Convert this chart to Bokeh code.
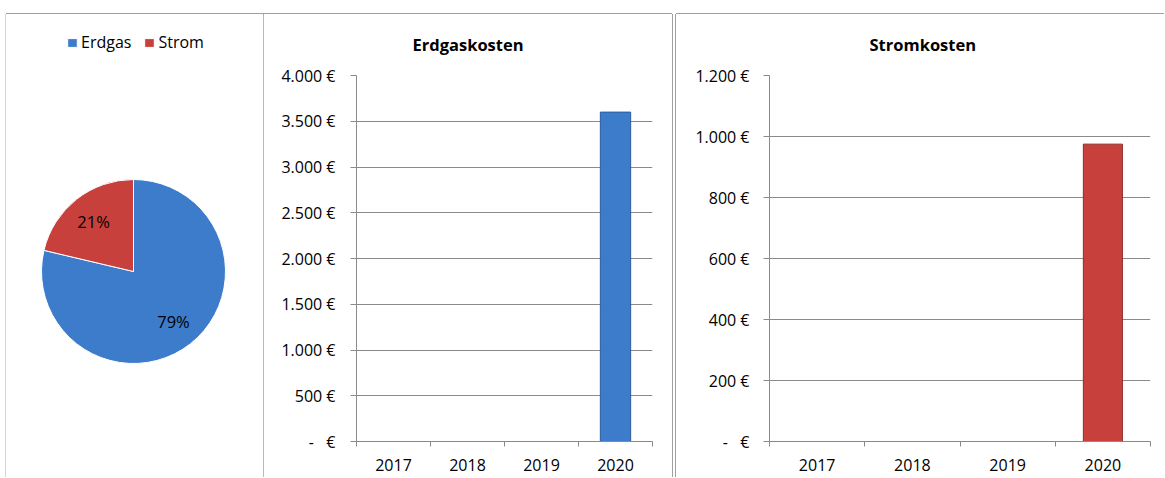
import math
from bokeh.plotting import figure
from bokeh.layouts import row, column
from bokeh.models import Range1d, FixedTicker, ColumnDataSource, Spacer
from bokeh.embed import file_html
from bokeh.resources import INLINE
from bokeh.core.properties import value

# ---------------- data ----------------
years = ["2017", "2018", "2019", "2020"]
erdgas_kosten = [0, 0, 0, 3600]
strom_kosten = [0, 0, 0, 975]
energy_labels = ["Erdgas", "Strom"]
gas_ticks = [0, 500, 1000, 1500, 2000, 2500, 3000, 3500, 4000]
strom_ticks = [0, 200, 400, 600, 800, 1000, 1200]
titles = ["Erdgaskosten", "Stromkosten"]

# ---------------- style ----------------
FONT = "Open Sans"
FS = "16px"
BLUE = "#3d7cca"
BLUE_EDGE = "#2c5c9c"
RED = "#c8403b"
RED_EDGE = "#8e2b27"
GRID = "#8a8a8a"
BORDER = "#a0a0a0"
H = 463
TOP, BOTTOM = 60, 36


def euro(v):
    if v == 0:
        return "-\u00a0\u00a0\u00a0€"
    return f"{v:,.0f}".replace(",", ".") + " €"


# ---------------- pie panel ----------------
W1 = 257
R = 92.0           # pixels per data unit (pie radius = 1)
cx, cy = 127, 257  # pie centre in canvas pixels
p1 = figure(width=W1, height=H, output_backend="svg", toolbar_location=None, title=None,
            x_range=Range1d(-cx / R, (W1 - cx) / R),
            y_range=Range1d(-(H - cy) / R, cy / R),
            x_axis_location=None, y_axis_location=None, min_border=0,
            styles={"box-shadow": f"0 -1px 0 {BORDER}, 1px 0 0 {BORDER}, -1px 0 0 #d6d6d6"})
p1.frame_align = False
p1.grid.visible = False
p1.outline_line_color = None

totals = [sum(erdgas_kosten), sum(strom_kosten)]
fracs = [t / sum(totals) for t in totals]
starts, ends, mids = [], [], []
cum = 0.0
for f in fracs:
    s = math.pi / 2 - cum * 2 * math.pi
    e = math.pi / 2 - (cum + f) * 2 * math.pi
    starts.append(s)
    ends.append(e)
    mids.append((s + e) / 2)
    cum += f
pie_src = ColumnDataSource(dict(label=energy_labels, start=starts, end=ends,
                                color=[BLUE, RED],
                                tx=[0.7 * math.cos(m) for m in mids],
                                ty=[0.7 * math.sin(m) for m in mids],
                                pct=[f"{round(f * 100)}%" for f in fracs]))
p1.wedge(x=0, y=0, radius=1, start_angle="start", end_angle="end", direction="clock",
         fill_color="color", line_color="white", line_width=1, legend_field="label",
         source=pie_src)
p1.text(x="tx", y="ty", text="pct", source=pie_src, text_align="center",
        text_baseline="middle", text_font=value(FONT), text_font_size="16.5px",
        text_color="black")

lg = p1.legend[0]
lg.orientation = "horizontal"
lg.location = (60, 424)
lg.border_line_color = None
lg.background_fill_alpha = 0
lg.padding = 0
lg.margin = 0
lg.spacing = 12
lg.glyph_width = 12
lg.glyph_height = 11
lg.label_height = 20
lg.label_standoff = 3
lg.label_text_font = FONT
lg.label_text_font_size = FS
lg.label_text_color = "black"


# ---------------- bar panels ----------------
def bar_panel(title, vals, ticks, width, mb_right, shadow, title_offset, fill, edge, bw, standoff):
    p = figure(width=width, height=H, output_backend="svg", toolbar_location=None,
               x_range=Range1d(0, len(years)), y_range=Range1d(0, ticks[-1]),
               min_border_left=93, min_border_right=mb_right,
               min_border_top=TOP, min_border_bottom=BOTTOM,
               styles={"box-shadow": shadow})
    p.outline_line_color = None
    p.xgrid.visible = False

    p.title.text = title
    p.title.align = "left"
    p.title.vertical_align = "top"
    p.title.offset = title_offset
    p.title.standoff = 36
    p.title.text_font = FONT
    p.title.text_font_size = "16.5px"
    p.title.text_font_style = "bold"
    p.title.text_color = "black"

    yt = FixedTicker(ticks=ticks)
    p.yaxis.ticker = yt
    p.ygrid.ticker = yt
    p.ygrid.grid_line_color = GRID
    p.yaxis.major_label_overrides = {t: euro(t) for t in ticks}
    p.yaxis.major_tick_out = 6
    p.yaxis.major_tick_in = 0
    p.yaxis.minor_tick_out = 0
    p.yaxis.minor_tick_in = 0
    p.yaxis.major_label_standoff = standoff

    centers = [i + 0.5 for i in range(len(years))]
    xt = FixedTicker(ticks=centers, minor_ticks=list(range(len(years) + 1)))
    p.xaxis.ticker = xt
    p.xaxis.major_label_overrides = {c: y for c, y in zip(centers, years)}
    p.xaxis.major_tick_out = 0
    p.xaxis.major_tick_in = 0
    p.xaxis.minor_tick_out = 5
    p.xaxis.minor_tick_in = 0
    p.xaxis.major_label_standoff = 12

    for ax in (p.xaxis, p.yaxis):
        ax.axis_line_color = GRID
        ax.minor_tick_line_color = GRID
        ax.major_label_text_font = FONT
        ax.major_label_text_font_size = FS
        ax.major_label_text_color = "black"
    p.yaxis.major_tick_line_color = GRID
    p.xaxis.major_tick_line_color = None

    src = ColumnDataSource(dict(x=centers, top=vals))
    p.vbar(x="x", top="top", bottom=0, width=bw, source=src,
           fill_color=fill, line_color=edge, line_width=1)
    return p


p2 = bar_panel(titles[0], erdgas_kosten, gas_ticks, 409, 20,
               f"0 -1px 0 {BORDER}, 1px 0 0 {BORDER}", 56, BLUE, BLUE_EDGE, 0.41, 15)
p3 = bar_panel(titles[1], strom_kosten, strom_ticks, 488, 14,
               f"0 -1px 0 {BORDER}, -1px 0 0 {BORDER}", 100, RED, RED_EDGE, 0.41, 14)

layout = column(Spacer(height=14),
                row(Spacer(width=6), p1, p2, Spacer(width=4), p3))
open("out.html", "w", encoding="utf-8").write(file_html(layout, INLINE))
